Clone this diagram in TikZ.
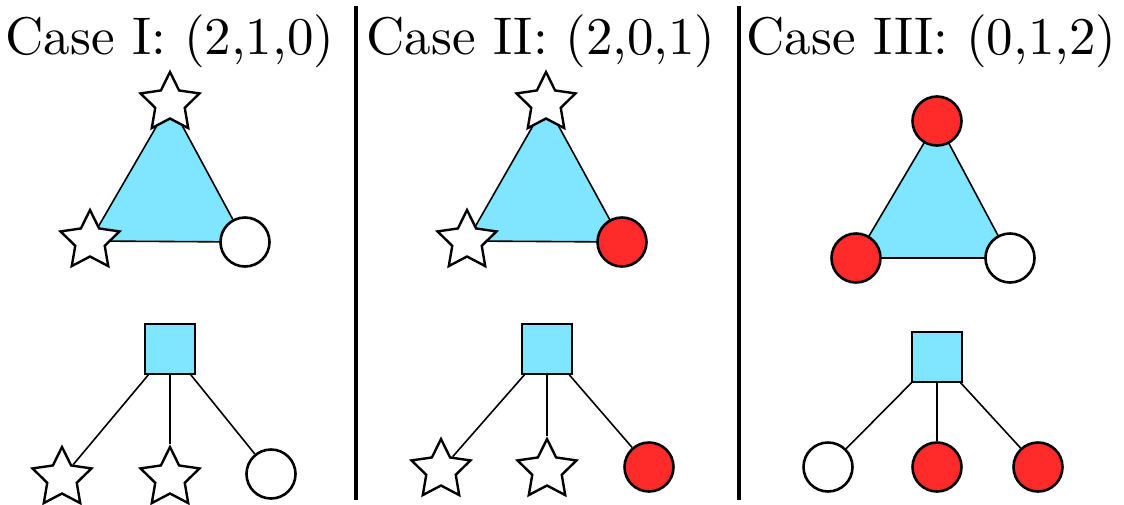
\documentclass[tikz,border=0pt]{standalone}
\usepackage{tikz}
\usepackage{graphicx}
\usetikzlibrary{shapes.geometric,backgrounds}
\definecolor{cyanfill}{HTML}{80E5FF}
\definecolor{redfill}{HTML}{FF2A2A}
\newcommand{\casetitle}[1]{\scalebox{5.3}{#1}}

\begin{document}
\begin{tikzpicture}[x=1pt,y=-1pt,
	wstar/.style={star,star points=5,star point ratio=2,draw,fill=white,line width=2.4pt,minimum size=62pt,inner sep=0pt},
	wdot/.style={circle,draw,fill=white,line width=2.6pt,minimum size=49pt,inner sep=0pt},
	rdot/.style={wdot,fill=redfill},
	factor/.style={rectangle,draw,fill=cyanfill,line width=1.6pt,minimum size=50pt,inner sep=0pt},
	edge/.style={line width=1.6pt},
	face/.style={draw,fill=cyanfill,line width=1.6pt,line join=round},
	title/.style={anchor=base,inner sep=0pt,font=\fontsize{10}{12}\selectfont}]
			\useasboundingbox (0,0) rectangle (1124,504);
			% titles and dividers
			\node[title] (tI) at (170,54) {\casetitle{Case I: (2,1,0)}};
			\node[title] (tII) at (541,54) {\casetitle{Case II: (2,0,1)}};
			\node[title] (tIII) at (931.5,54) {\casetitle{Case III: (0,1,2)}};
			\draw[line width=4pt] (356,6) -- (356,500);
			\draw[line width=4pt] (739,6) -- (739,500);
			% case I
			\node[wstar] (aI) at (170,103) {};
			\node[wstar] (bI) at (90,241) {};
			\node[wdot] (cI) at (245,242) {};
			\node[factor] (fI) at (170,349) {};
			\node[wstar] (xI) at (62,478) {};
			\node[wstar] (yI) at (170,478) {};
			\node[wdot] (zI) at (271,474) {};
			% case II
			\node[wstar] (aII) at (546,103) {};
			\node[wstar] (bII) at (467,241) {};
			\node[rdot] (cII) at (622,242) {};
			\node[factor] (fII) at (547,349) {};
			\node[wstar] (xII) at (441,470) {};
			\node[wstar] (yII) at (547,470) {};
			\node[rdot] (zII) at (649,467) {};
			% case III
			\node[rdot] (aIII) at (937,121) {};
			\node[rdot] (bIII) at (856,258) {};
			\node[wdot] (cIII) at (1010,258) {};
			\node[factor] (fIII) at (937,357) {};
			\node[wdot] (xIII) at (828,467) {};
			\node[rdot] (yIII) at (937,467) {};
			\node[rdot] (zIII) at (1038,467) {};
			% faces and edges
			\begin{scope}[on background layer]
			\draw[face] (aI.center) -- (bI.center) -- (cI.center) -- cycle;
			\draw[face] (aII.center) -- (bII.center) -- (cII.center) -- cycle;
			\draw[face] (aIII.center) -- (bIII.center) -- (cIII.center) -- cycle;
			\end{scope}
			\foreach \c in {I,II,III}
				\foreach \v in {x,y,z}
					\draw[edge] (f\c) -- (\v\c);
		\end{tikzpicture}
\end{document}
